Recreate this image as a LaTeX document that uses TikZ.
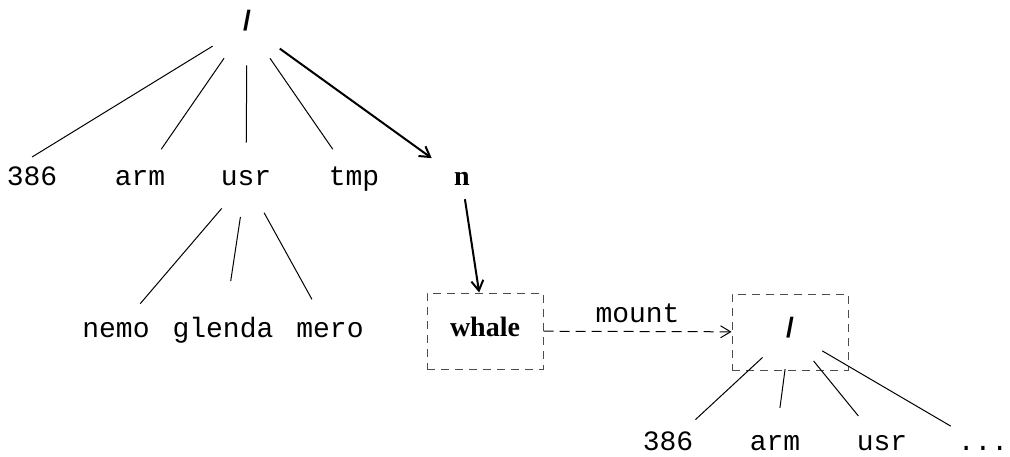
\documentclass[tikz,border=0pt]{standalone}
\usepackage{fontspec}
\setmainfont{Liberation Serif}
\setsansfont{Liberation Sans}
\setmonofont{Liberation Mono}
\usetikzlibrary{arrows.meta}
\usetikzlibrary{positioning}
\tikzset{x=0.5pt, y=-0.5pt, every node/.style={font={\ttfamily\fontsize{14}{16}\selectfont}, text height=1.5ex, text depth=.25ex}}
\tikzstyle{dir} = [circle, minimum size=37pt, inner sep=0pt]
\tikzstyle{bold} = [font={\rmfamily\bfseries\fontsize{14}{16}\selectfont}]
\tikzstyle{slash} = [font={\sffamily\bfseries\fontsize{14}{16}\selectfont}]
\tikzstyle{ln} = [draw, line width=0.5pt]
\tikzstyle{tip} = [draw, line width=1pt, -{Straight Barb[length=5pt,width=6pt]}]
\tikzstyle{mnt} = [draw=black!70, dash pattern=on 4pt off 3pt, line width=0.5pt, minimum width=58pt, minimum height=38pt]

\begin{document}
\begin{tikzpicture}
  \useasboundingbox (0,0) rectangle (1010,456);
  % first tree
  \node[dir, slash, minimum size=40pt] (root) at (247,25) {/};
  \node[dir] (r386) at (32,180) {386};
  \node[dir] (rarm) at (140,180) {arm};
  \node[dir] (rusr) at (246,180) {usr};
  \node[dir] (rtmp) at (354,180) {tmp};
  \node[dir, bold] (rn) at (462,180) {n};
  \node[dir] (nemo) at (116,332) {nemo};
  \node[dir] (glenda) at (223,332) {glenda};
  \node[dir] (mero) at (330,332) {mero};
  \draw[ln, shorten >=22pt] (root) -- (r386.west);
  \draw[ln] (root) -- (rarm);
  \draw[ln] (root) -- (rusr);
  \draw[ln] (root) -- (rtmp);
  \draw[tip] (root) -- (rn);
  \draw[ln] (rusr) -- (nemo);
  \draw[ln] (rusr) -- (glenda);
  \draw[ln] (rusr) -- (mero);
  % mounted tree
  \node[mnt, bold] (whale) at (485,331) {whale};
  \node[mnt, slash] (mroot) at (790,332) {/};
  \node[dir] (mhub) at (mroot.center) {};
  \node[dir] (m386) at (668,445) {386};
  \node[dir] (marm) at (775,445) {arm};
  \node[dir] (musr) at (882,445) {usr};
  \node[dir] (mdots) at (983,445) {...};
  \draw[tip, shorten <=-9pt] (rn) -- (whale);
  \draw[ln, dash pattern=on 5pt off 3pt, -{Straight Barb[length=5pt,width=6pt]}] (whale) -- node[above] {mount} (mroot);
  \draw[ln] (mhub) -- (m386);
  \draw[ln] (mhub) -- (marm);
  \draw[ln] (mhub) -- (musr);
  \draw[ln] (mhub) -- (mdots);
\end{tikzpicture}
\end{document}
